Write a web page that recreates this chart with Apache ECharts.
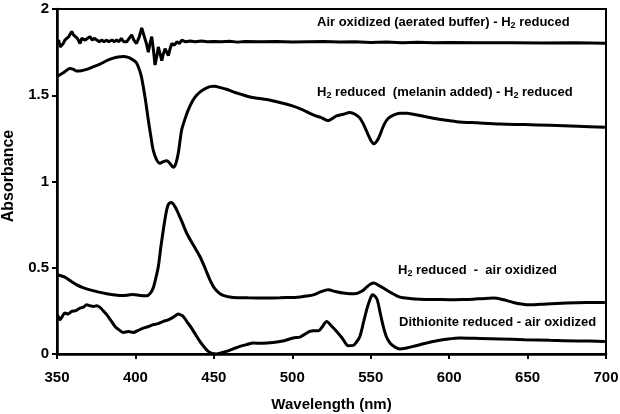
<!DOCTYPE html>
<html><head><meta charset="utf-8">
<script src="https://cdn.jsdelivr.net/npm/echarts@6/dist/echarts.min.js"></script>
<style>html,body{margin:0;padding:0;background:#fff}#c{width:620px;height:414px}</style>
</head><body><div id="c"></div>
<script>
var xTicks = [350, 400, 450, 500, 550, 600, 650, 700];
var yTicks = ['0', '0.5', '1', '1.5', '2'];

var airOxidized = [
 [350.2,1.80],[351,1.82],[352,1.78],[353,1.77],[354,1.80],[355,1.82],[356,1.81],[357.5,1.84],[359.4,1.87],[360.5,1.85],[361.5,1.86],[363,1.83],[364.7,1.80],[365.8,1.83],[366.8,1.84],[368,1.82],[369.5,1.83],[371,1.84],[372.5,1.82],[374,1.83],[375.3,1.82],[377,1.81],[378.5,1.82],[380,1.81],[381.7,1.82],[383,1.81],[385,1.82],[386.5,1.81],[388,1.82],[389.5,1.81],[391,1.83],[392.5,1.81],[394.4,1.81],[396,1.83],[397.6,1.85],[399,1.82],[400.7,1.80],[402.5,1.84],[404,1.89],[405,1.86],[406,1.83],[407,1.80],[408.2,1.75],[409.3,1.80],[410.4,1.84],[411.5,1.76],[412.5,1.675],[413.5,1.72],[414.6,1.78],[415.7,1.74],[416.8,1.70],[417.8,1.74],[418.9,1.77],[420,1.76],[421,1.73],[422.1,1.77],[423.2,1.80],[424.8,1.79],[426.4,1.81],[428,1.80],[429.6,1.82],[432,1.81],[435,1.815],[438,1.81],[442,1.815],[446,1.81],[450,1.812],[455,1.81],[460,1.813],[465,1.808],[470,1.812],[480,1.81],[490,1.812],[500,1.808],[510,1.81],[520,1.812],[530,1.808],[540,1.81],[550,1.806],[560,1.808],[570,1.805],[580,1.807],[590,1.804],[600,1.806],[620,1.804],[640,1.805],[660,1.803],[680,1.804],[700,1.802]
];

var melaninAdded = [
 [350.2,1.61],[354,1.63],[358.3,1.655],[360.5,1.65],[362.5,1.64],[365.5,1.642],[368.9,1.65],[373,1.665],[377.4,1.68],[381.5,1.70],[385.9,1.715],[389,1.722],[392.2,1.725],[395.5,1.72],[398.6,1.705],[400.5,1.69],[401.8,1.665],[403.5,1.62],[405,1.55],[406.6,1.46],[408.2,1.357],[409.7,1.27],[411.3,1.183],[413.3,1.13],[415.6,1.106],[417.8,1.115],[419.9,1.12],[422,1.105],[424.1,1.083],[425.6,1.10],[427.3,1.164],[428.5,1.24],[429.5,1.30],[431.5,1.36],[433.7,1.415],[436.3,1.465],[439,1.50],[443,1.53],[447.5,1.55],[450.5,1.552],[453.9,1.545],[458,1.535],[462.4,1.52],[467.5,1.505],[473,1.49],[478,1.482],[483.7,1.475],[492,1.458],[500.6,1.437],[506,1.418],[511.2,1.395],[515,1.38],[518.5,1.37],[522.9,1.353],[525.5,1.365],[528.2,1.38],[532.5,1.39],[536.7,1.40],[540,1.39],[543.1,1.367],[546,1.32],[548.4,1.27],[550.3,1.235],[552,1.218],[554,1.235],[555.9,1.27],[558.5,1.33],[561.2,1.367],[564.5,1.385],[568.6,1.395],[573,1.395],[577.1,1.39],[583,1.38],[589.9,1.367],[597,1.356],[604.8,1.347],[618,1.34],[632.4,1.333],[648,1.33],[664.3,1.326],[682,1.32],[699.3,1.314]
];

var h2Reduced = [
 [350.2,0.459],[353,0.452],[355,0.446],[358.5,0.425],[362.6,0.401],[366.5,0.385],[371,0.372],[376,0.36],[381.7,0.349],[387,0.342],[392.3,0.339],[395.5,0.342],[398.6,0.345],[403,0.339],[407.1,0.337],[409.3,0.35],[411.3,0.382],[413,0.44],[414.6,0.507],[416.2,0.62],[417.8,0.72],[419.4,0.81],[420.9,0.865],[423.1,0.878],[424.7,0.862],[426.3,0.836],[429.5,0.77],[432.7,0.70],[437,0.63],[441.1,0.565],[444.3,0.50],[447.5,0.43],[450.5,0.38],[453.9,0.349],[458,0.334],[462.4,0.328],[472,0.326],[483.7,0.325],[492,0.326],[500.6,0.328],[504.9,0.33],[509,0.336],[513.4,0.343],[518,0.36],[522.9,0.372],[527.5,0.362],[532.5,0.353],[537,0.35],[541,0.351],[544.5,0.365],[547.4,0.388],[549.7,0.404],[552,0.411],[555,0.398],[558,0.383],[563,0.355],[568.6,0.33],[575,0.322],[581.4,0.318],[590,0.316],[600.5,0.315],[608,0.316],[615.4,0.318],[621,0.321],[628.2,0.324],[634,0.316],[641,0.299],[646,0.29],[651.5,0.285],[662,0.29],[674.9,0.295],[688,0.298],[699.3,0.299]
];

var dithionite = [
 [350.2,0.228],[351,0.215],[352,0.199],[353.5,0.22],[355,0.237],[357,0.232],[359.4,0.247],[362,0.252],[364.7,0.266],[366.8,0.272],[368.9,0.285],[371,0.28],[373.2,0.276],[375.3,0.279],[377.4,0.27],[379.5,0.25],[381.7,0.228],[384.3,0.195],[387,0.16],[389.6,0.14],[392.3,0.125],[395.5,0.13],[398.6,0.125],[401.8,0.137],[405,0.15],[408,0.158],[411.3,0.17],[414.5,0.176],[417.8,0.189],[420.5,0.196],[423.1,0.208],[425.2,0.22],[427.3,0.232],[429,0.226],[430.5,0.218],[433,0.185],[435.8,0.15],[438.5,0.11],[441.1,0.073],[443.7,0.042],[446.4,0.015],[449,0.003],[451.7,0.0],[455,0.008],[458.1,0.015],[462.3,0.03],[466.6,0.044],[471,0.055],[475.1,0.064],[481,0.062],[487.8,0.066],[494,0.075],[500.6,0.093],[504.9,0.098],[508,0.115],[511.2,0.131],[513.4,0.135],[516.6,0.135],[519.3,0.16],[521.9,0.189],[525,0.162],[528.3,0.131],[532,0.09],[535.7,0.048],[538.9,0.05],[541,0.07],[543.1,0.102],[545.3,0.18],[547.4,0.256],[549.3,0.31],[551.2,0.343],[552.7,0.335],[554.2,0.314],[556,0.24],[558,0.16],[560,0.1],[562.3,0.064],[565.5,0.04],[568.6,0.029],[572.8,0.035],[577.1,0.044],[583,0.058],[589.9,0.073],[598,0.085],[606.8,0.093],[620,0.09],[632.4,0.087],[648,0.083],[664.3,0.079],[682,0.076],[699.3,0.073]
];

var FAM = '"Liberation Sans", Arial, sans-serif';
var labelFont = 'bold 13px ' + FAM;
function annot(x, y, parts) {
  return {
    type: 'text', left: x, top: y, z: 100,
    style: {
      rich: {
        t: { font: labelFont, fill: '#000' },
        s: { font: 'bold 9px ' + FAM, fill: '#000', verticalAlign: 'bottom', padding: [7, 0, 0, 0] }
      },
      text: parts
    }
  };
}

var chart = echarts.init(document.getElementById('c'), null, {renderer: 'canvas'});
var lineStyle = { color: '#000', width: 3 };
function ser(d, smooth) {
  return { type: 'line', data: d, showSymbol: false, smooth: smooth, lineStyle: lineStyle, silent: true, animation: false };
}
chart.setOption({
  animation: false,
  backgroundColor: '#fff',
  grid: { left: 57, right: 14, top: 9, bottom: 60, outerBoundsMode: 'none', containLabel: false,
    show: true, borderColor: '#000', borderWidth: 2, backgroundColor: 'transparent' },
  xAxis: {
    type: 'value', min: 350, max: 700, interval: 50,
    name: 'Wavelength (nm)', nameLocation: 'middle', nameGap: 43,
    nameTextStyle: { fontFamily: FAM, fontWeight: 'bold', fontSize: 15, color: '#000' },
    axisLine: { lineStyle: { color: '#000', width: 2.5 } },
    axisTick: { show: true, length: 5, lineStyle: { color: '#000', width: 2 } },
    axisLabel: { color: '#000', fontFamily: FAM, fontWeight: 'bold', fontSize: 15, margin: 16,
      formatter: function (v) { return xTicks.indexOf(v) >= 0 ? String(v) : ''; } },
    splitLine: { show: false }
  },
  yAxis: {
    type: 'value', min: 0, max: 2, interval: 0.5,
    axisLine: { lineStyle: { color: '#000', width: 2.5 } },
    axisTick: { show: true, length: 5, lineStyle: { color: '#000', width: 2 } },
    axisLabel: { color: '#000', fontFamily: FAM, fontWeight: 'bold', fontSize: 15, margin: 8,
      formatter: function (v) { var s = String(v); return yTicks.indexOf(s) >= 0 ? s : ''; } },
    splitLine: { show: false }
  },
  graphic: [
    { type: 'text', x: 9, y: 176, rotation: Math.PI / 2, z: 100,
      style: { text: 'Absorbance', font: 'bold 16px ' + FAM, fill: '#000', textAlign: 'center', textVerticalAlign: 'middle' } },
    annot(317, 16, '{t|Air oxidized (aerated buffer) - H}{s|2}{t| reduced}'),
    annot(317, 86, '{t|H}{s|2}{t| reduced  (melanin added) - H}{s|2}{t| reduced}'),
    annot(398, 264, '{t|H}{s|2}{t| reduced  -  air oxidized}'),
    annot(399, 316, '{t|Dithionite reduced - air oxidized}')
  ],
  series: [ser(airOxidized, false), ser(melaninAdded, 0.3), ser(h2Reduced, 0.3), ser(dithionite, 0.3)]
});
</script></body></html>
